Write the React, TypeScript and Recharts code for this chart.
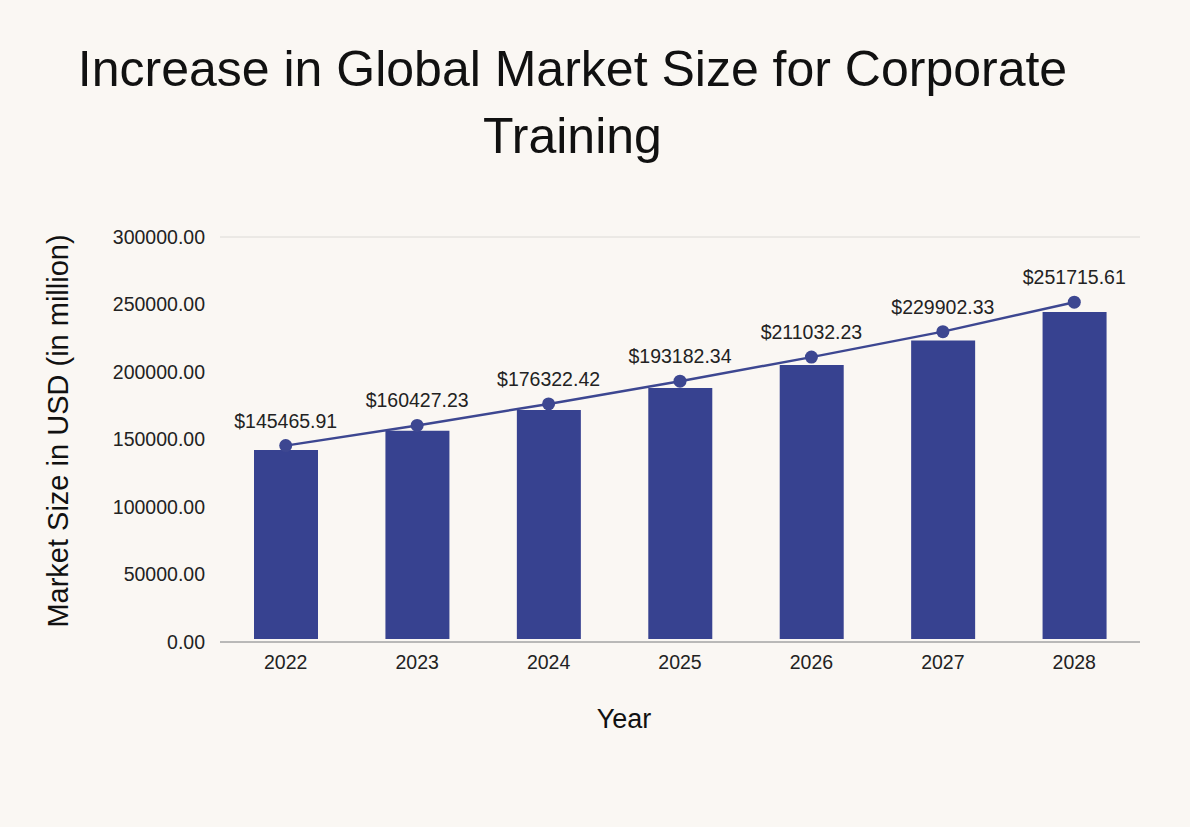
import React from "react";
import {
  ComposedChart,
  Bar,
  Line,
  XAxis,
  YAxis,
  CartesianGrid,
  LabelList,
} from "recharts";

// Corporate training market size (USD million), by year
const years: string[] = ["2022", "2023", "2024", "2025", "2026", "2027", "2028"];
const marketSize: number[] = [
  145465.91, 160427.23, 176322.42, 193182.34, 211032.23, 229902.33, 251715.61,
];
const yTicks: number[] = [0, 50000, 100000, 150000, 200000, 250000, 300000];

const rows = years.map((year, i) => ({ year, size: marketSize[i] }));

const BG = "#faf7f3";
const BAR = "#374290";
const LINE = "#3d4791";
const FONT = "'Liberation Sans', Arial, Helvetica, sans-serif";

export default function App() {
  return (
    <div
      style={{
        position: "absolute",
        left: 0,
        top: 0,
        width: 1190,
        height: 827,
        background: BG,
        fontFamily: FONT,
        overflow: "hidden",
      }}
    >
      <div
        style={{
          position: "absolute",
          left: 0,
          top: 36,
          width: 1145,
          textAlign: "center",
          fontSize: 50,
          lineHeight: "67px",
          color: "#111",
        }}
      >
        Increase in Global Market Size for Corporate
        <br />
        Training
      </div>

      <div style={{ position: "absolute", left: 0, top: 0 }}>
        <ComposedChart
          width={1190}
          height={827}
          data={rows}
          margin={{ top: 237, right: 50, left: 100, bottom: 145 }}
        >
          <CartesianGrid vertical={false} stroke="#dcdad6" strokeWidth={1} />
          <XAxis
            dataKey="year"
            height={40}
            tickLine={false}
            axisLine={{ stroke: "#a9a9a9", strokeWidth: 1.5 }}
            tickSize={0}
            tickMargin={13}
            tick={{ fill: "#222", fontSize: 19.5, fontFamily: FONT }}
          />
          <YAxis
            yAxisId="main"
            width={120}
            domain={[0, 300000]}
            ticks={yTicks}
            allowDataOverflow
            tickFormatter={(v: number) => v.toFixed(2)}
            tickLine={false}
            axisLine={false}
            tickSize={0}
            tickMargin={15}
            tick={{ fill: "#222", fontSize: 19.5, fontFamily: FONT }}
          />
          {/* bars sit on their own slightly compressed scale, lifted just above the axis */}
          <YAxis
            yAxisId="bars"
            orientation="right"
            width={0}
            hide
            domain={[-2300, 309500]}
            allowDataOverflow
          />
          <Bar
            yAxisId="bars"
            dataKey="size"
            fill={BAR}
            barSize={64}
            isAnimationActive={false}
          />
          <Line
            yAxisId="main"
            dataKey="size"
            type="linear"
            stroke={LINE}
            strokeWidth={2.5}
            dot={{ r: 6.5, fill: LINE, stroke: LINE, strokeWidth: 0 }}
            activeDot={false}
            isAnimationActive={false}
          >
            <LabelList
              dataKey="size"
              position="top"
              offset={18}
              formatter={(v: number) => `$${v.toFixed(2)}`}
              style={{ fill: "#222", fontSize: 19.5, fontFamily: FONT }}
            />
          </Line>
        </ComposedChart>
      </div>

      <div
        style={{
          position: "absolute",
          left: 524,
          top: 704,
          width: 200,
          textAlign: "center",
          fontSize: 27,
          lineHeight: "30px",
          color: "#111",
        }}
      >
        Year
      </div>

      <div
        style={{
          position: "absolute",
          left: 58,
          top: 431,
          transform: "translate(-50%, -50%) rotate(-90deg)",
          whiteSpace: "nowrap",
          fontSize: 29,
          lineHeight: "29px",
          color: "#111",
        }}
      >
        Market Size in USD (in million)
      </div>
    </div>
  );
}
